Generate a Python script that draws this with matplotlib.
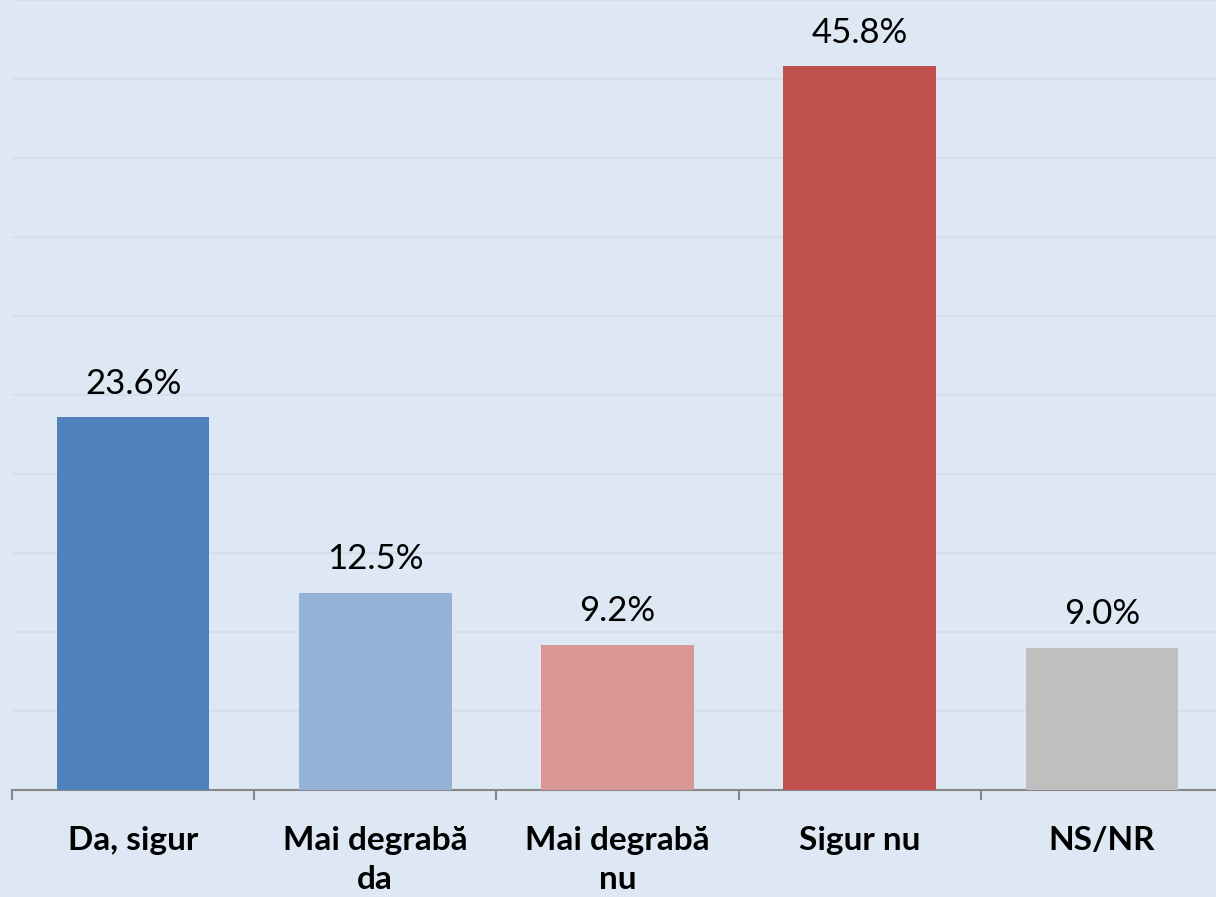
import matplotlib
matplotlib.use("Agg")
import matplotlib.pyplot as plt

categories = ["Da, sigur", "Mai degrabă\nda", "Mai degrabă\nnu", "Sigur nu", "NS/NR"]
values = [23.6, 12.5, 9.2, 45.8, 9.0]
value_labels = ["23.6%", "12.5%", "9.2%", "45.8%", "9.0%"]
colors = ["#4F81BD", "#95B3D7", "#D99694", "#C0504D", "#BFBFBF"]

bg = "#DDE8F4"
plt.rcParams['font.family'] = ['Lato', 'DejaVu Sans']

fig = plt.figure(figsize=(12.16, 8.97), dpi=100, facecolor=bg)
ax = fig.add_axes([12/1216, 1-790/897, 1211/1216, 790/897])
ax.set_facecolor(bg)

x = list(range(len(categories)))
bars = ax.bar(x, values, width=0.63, color=colors, zorder=3)
ax.set_xlim(-0.5, len(categories) - 0.5)
ax.set_ylim(0, 50)
ax.set_yticks([5, 10, 15, 20, 25, 30, 35, 40, 45, 50])
ax.yaxis.grid(True, color="#D4DEEB", linewidth=1.2, zorder=0)
ax.tick_params(axis='y', left=False, labelleft=False)

for s in ["top", "right", "left"]:
    ax.spines[s].set_visible(False)
ax.spines["bottom"].set_color("#868686")
ax.spines["bottom"].set_linewidth(1.5)

ax.set_xticks([i - 0.5 for i in x] + [len(categories) - 0.5])
ax.set_xticklabels([])
ax.set_xticks(x, minor=True)
ax.set_xticklabels(categories, minor=True, fontsize=24, fontweight='bold',
                   linespacing=1.4)
ax.tick_params(axis='x', which='major', length=7.5, width=1.5, color="#868686", direction='out')
ax.tick_params(axis='x', which='minor', length=0, pad=26)

for b, lab in zip(bars, value_labels):
    ax.annotate(lab, (b.get_x() + b.get_width() / 2, b.get_height()),
                xytext=(0, 17), textcoords='offset points',
                ha='center', va='baseline', fontsize=25, color="#000000")

fig.savefig("out.png", dpi=100, facecolor=bg)
